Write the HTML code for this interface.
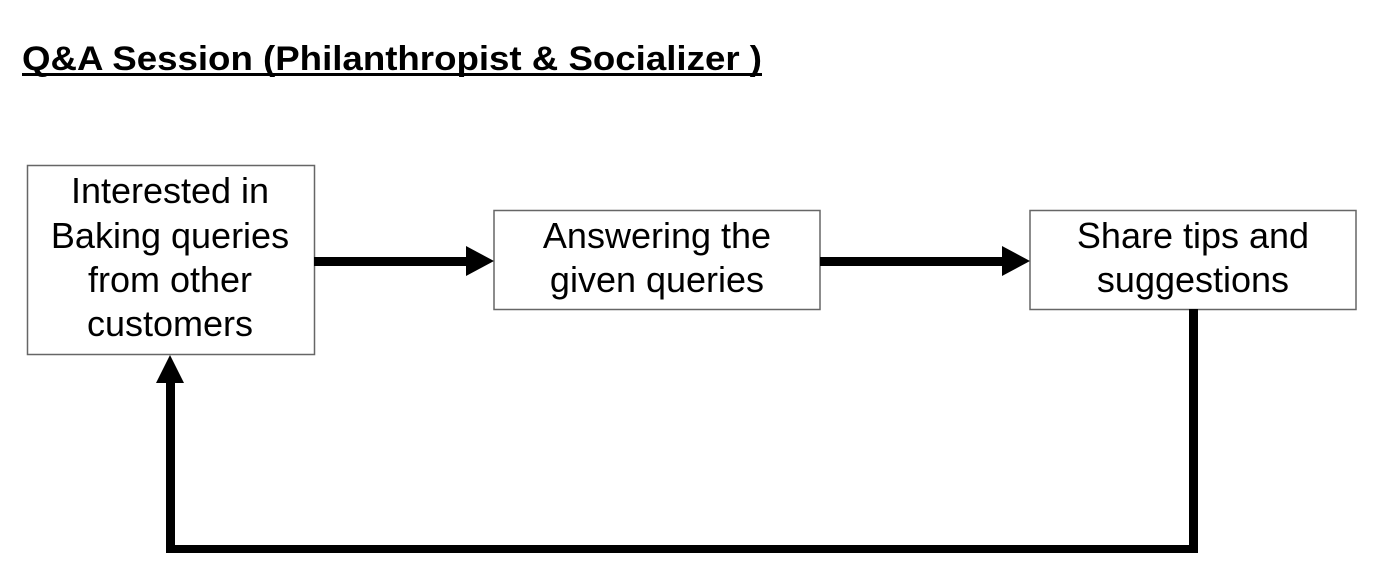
<!DOCTYPE html>
<html><head><meta charset="utf-8"><style>
html,body{margin:0;padding:0;background:#fff;}
svg{display:block;}
</style></head><body>
<svg width="1382" height="579" viewBox="0 0 1382 579" xmlns="http://www.w3.org/2000/svg">
<rect width="1382" height="579" fill="#fff"/>
<text x="22" y="70" font-family="Liberation Sans, sans-serif" font-weight="bold" font-size="34" textLength="740" lengthAdjust="spacingAndGlyphs" fill="#000">Q&amp;A Session (Philanthropist &amp; Socializer )</text>
<rect x="22" y="73" width="740" height="3" fill="#000"/>
<g fill="#fff" stroke="#666" stroke-width="1.5">
<rect x="27.5" y="165.5" width="287" height="189"/>
<rect x="494" y="210.5" width="326" height="99"/>
<rect x="1030" y="210.5" width="326" height="99"/>
</g>
<g font-family="Liberation Sans, sans-serif" font-size="36" fill="#000" text-anchor="middle">
<text x="170" y="203">Interested in</text>
<text x="170" y="248">Baking queries</text>
<text x="170" y="292">from other</text>
<text x="170" y="336">customers</text>
<text x="657" y="248">Answering the</text>
<text x="657" y="292">given queries</text>
<text x="1193" y="248">Share tips and</text>
<text x="1193" y="292">suggestions</text>
</g>
<g fill="#000">
<rect x="314" y="257" width="154" height="9"/>
<polygon points="466,246 494,261 466,276"/>
<rect x="820" y="257" width="184" height="9"/>
<polygon points="1002,246 1030,261 1002,276"/>
<rect x="1189" y="309" width="9" height="244"/>
<rect x="166" y="545" width="1032" height="8"/>
<rect x="166" y="381" width="9" height="172"/>
<polygon points="156,383 170,355 184,383"/>
</g>
</svg>
</body></html>
